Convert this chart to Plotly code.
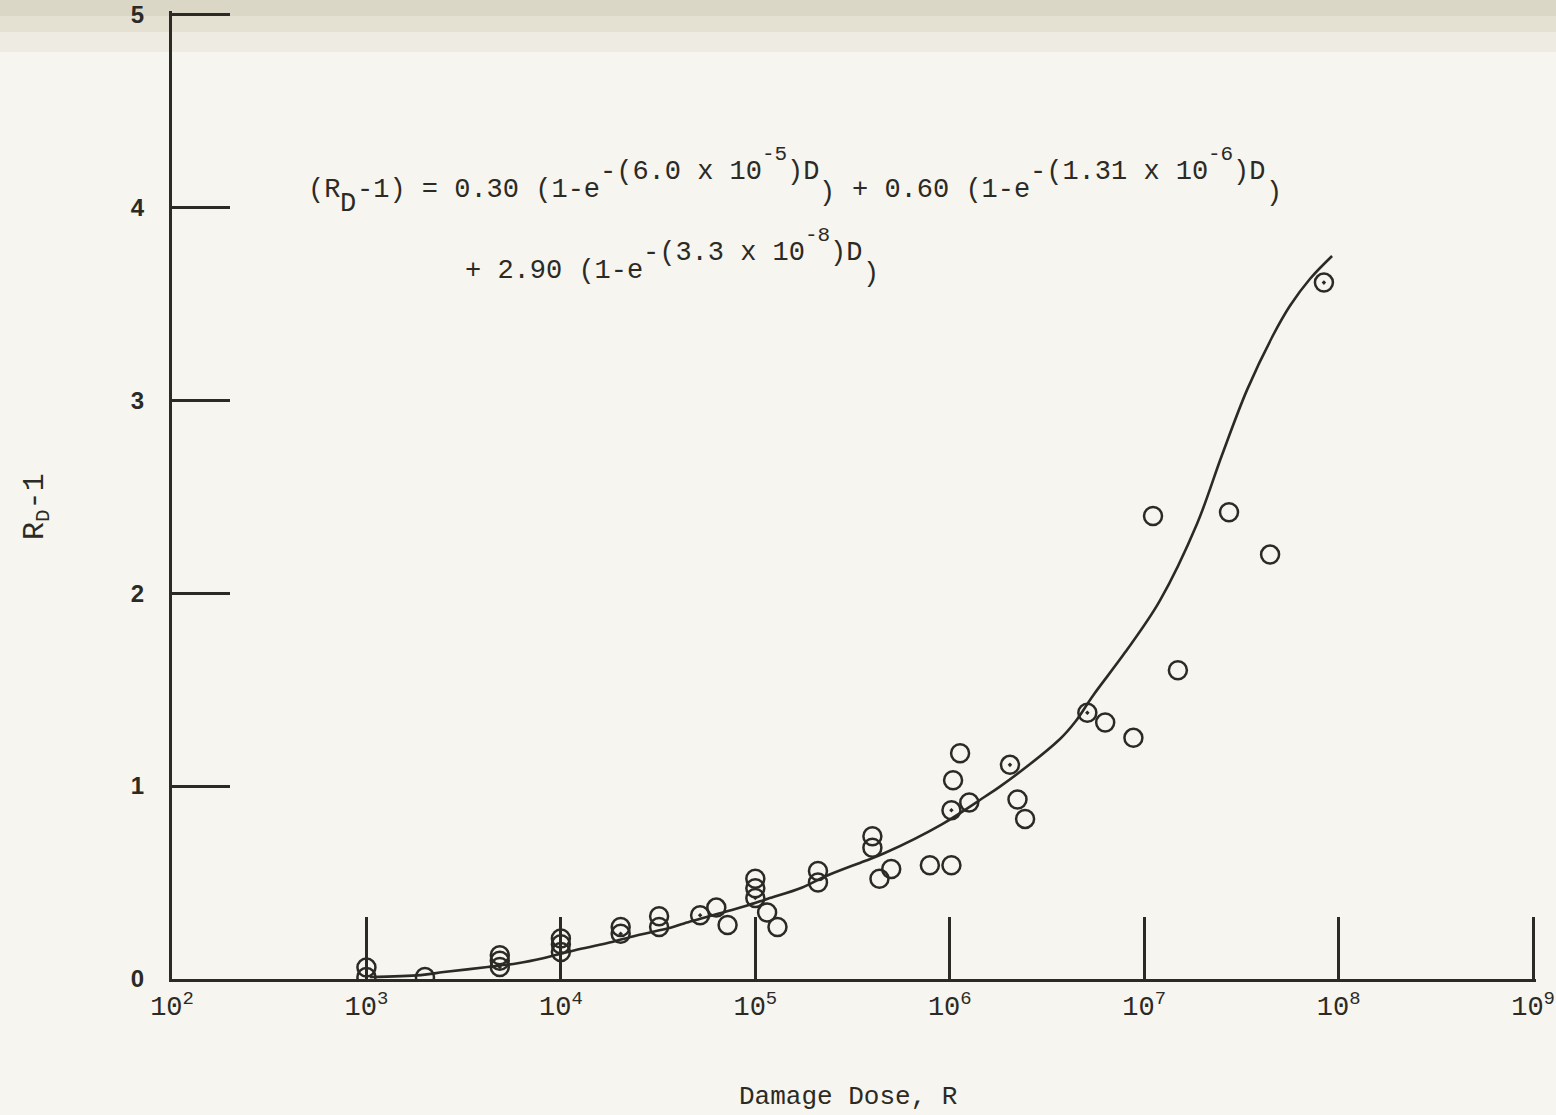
import plotly.graph_objects as go

# ---------------- data ----------------
# measured points: dose (R), R_D - 1, whether the circle has a centre dot
pt_dose = [1.0e3, 1.0e3, 2.0e3, 4.85e3, 4.85e3, 4.85e3, 1.0e4, 1.0e4, 1.0e4,
           2.03e4, 2.03e4, 3.2e4, 3.2e4, 5.2e4, 6.3e4, 7.2e4,
           1.0e5, 1.0e5, 1.0e5, 1.15e5, 1.3e5, 2.1e5, 2.1e5,
           4.0e5, 4.0e5, 4.35e5, 5.0e5, 7.9e5, 1.02e6,
           1.13e6, 1.04e6, 1.26e6, 1.02e6, 2.04e6, 2.23e6, 2.44e6,
           5.1e6, 6.3e6, 8.8e6, 1.11e7, 1.49e7, 2.73e7, 4.44e7, 8.4e7]
pt_val = [0.06, 0.01, 0.01, 0.123, 0.095, 0.062, 0.21, 0.18, 0.14,
          0.27, 0.235, 0.325, 0.27, 0.33, 0.37, 0.28,
          0.52, 0.47, 0.42, 0.345, 0.27, 0.56, 0.50,
          0.74, 0.68, 0.52, 0.57, 0.59, 0.59,
          1.17, 1.03, 0.915, 0.875, 1.11, 0.93, 0.83,
          1.38, 1.33, 1.25, 2.40, 1.60, 2.42, 2.20, 3.61]
pt_dot = [0, 0, 0, 0, 0, 1, 0, 0, 1,
          0, 1, 0, 0, 1, 0, 0,
          0, 0, 1, 0, 0, 0, 0,
          0, 0, 0, 0, 0, 0,
          0, 0, 0, 1, 1, 0, 0,
          1, 0, 0, 0, 0, 0, 0, 1]

# fitted curve as drawn
curve_dose = [1.04e3, 1.9e3, 2.5e3, 4.2e3, 6.0e3, 8.1e3, 1.18e4, 1.72e4, 2.45e4,
              3.7e4, 4.3e4, 7.4e4, 9.0e4, 1.16e5, 1.73e5, 2.33e5, 3.66e5, 4.63e5,
              9.1e5, 1.52e6, 1.81e6, 3.69e6, 4.41e6, 5.46e6, 7.96e6, 1.2e7,
              1.87e7, 2.51e7, 3.38e7, 4.6e7, 5.62e7, 7.13e7, 9.25e7]
curve_val = [0.010, 0.020, 0.036, 0.062, 0.082, 0.108, 0.149, 0.185, 0.226,
             0.267, 0.288, 0.355, 0.380, 0.416, 0.473, 0.535, 0.612, 0.653,
             0.802, 0.946, 0.997, 1.244, 1.332, 1.470, 1.692, 1.959,
             2.360, 2.715, 3.054, 3.337, 3.49, 3.630, 3.748]

x_tickvals = [1e2, 1e3, 1e4, 1e5, 1e6, 1e7, 1e8, 1e9]
x_ticktext = ["10<sup>2</sup>", "10<sup>3</sup>", "10<sup>4</sup>", "10<sup>5</sup>",
              "10<sup>6</sup>", "10<sup>7</sup>", "10<sup>8</sup>", "10<sup>9</sup>"]
y_tickvals = [0, 1, 2, 3, 4, 5]
y_ticktext = ["0", "1", "2", "3", "4", "5"]

# ---------------- styling ----------------
INK = "#2c2a24"
BG = "#f6f5ef"
MONO = "Liberation Mono"
W, H = 1556, 1115
L, R, T, B = 172, 20, 11, 136
PW, PH = W - L - R, H - T - B
Y0PX = H - B


def px2paper(px, py):
    return (px - L) / PW, (Y0PX - py) / PH


fig = go.Figure()

fig.add_trace(go.Scatter(
    x=curve_dose, y=curve_val, mode="lines",
    line=dict(color=INK, width=2.6, shape="spline", smoothing=1.0),
    hoverinfo="skip", showlegend=False))

symbols = ["circle-open-dot" if d else "circle-open" for d in pt_dot]
fig.add_trace(go.Scatter(
    x=pt_dose, y=pt_val, mode="markers",
    marker=dict(symbol=symbols, size=18, color=INK, line=dict(color=INK, width=2.5)),
    showlegend=False))

annotations = []


def add_text(text, px, py, size, anchor="left", angle=0, family=MONO):
    x, y = px2paper(px, py)
    annotations.append(dict(text=text, x=x, y=y, xref="paper", yref="paper",
                            xanchor=anchor, yanchor="middle", showarrow=False,
                            textangle=angle,
                            font=dict(family=family, size=size, color=INK)))


MAIN = 27
SS = 21


def eq_line(x0, y_main, pieces):
    x = x0
    ys = {"main": y_main, "sub": y_main + 14, "exp": y_main - 18,
          "ss": y_main - 35, "low": y_main + 3}
    for txt, kind in pieces:
        size = SS if kind == "ss" else MAIN
        adv = 0.6 * size
        stripped = txt.lstrip(" ")
        lead = len(txt) - len(stripped)
        add_text(stripped, x + lead * adv, ys[kind], size)
        x += len(txt) * adv


eq_line(306, 190, [("(R", "main"), ("D", "sub"), ("-1) = 0.30 (1-e", "main"),
                   ("-(6.0 x 10", "exp"), ("-5", "ss"), (")D", "exp"), (")", "low"),
                   (" + 0.60 (1-e", "main"), ("-(1.31 x 10", "exp"), ("-6", "ss"),
                   (")D", "exp"), (")", "low")])
eq_line(463, 271, [("+ 2.90 (1-e", "main"), ("-(3.3 x 10", "exp"), ("-8", "ss"),
                   (")D", "exp"), (")", "low")])

# axis titles
add_text("Damage Dose, R", 848, 1097, 26, anchor="center")
add_text("R<sub>D</sub>-1", 36, 507, 30, anchor="center", angle=-90)

shapes = [
    dict(type="rect", xref="paper", yref="paper", x0=-0.2, x1=1.1,
         y0=px2paper(0, 16)[1], y1=px2paper(0, -5)[1], fillcolor="#dbd7c6",
         line=dict(width=0), layer="below"),
    dict(type="rect", xref="paper", yref="paper", x0=-0.2, x1=1.1,
         y0=px2paper(0, 32)[1], y1=px2paper(0, 16)[1], fillcolor="#e4e1d3",
         line=dict(width=0), layer="below"),
    dict(type="rect", xref="paper", yref="paper", x0=-0.2, x1=1.1,
         y0=px2paper(0, 52)[1], y1=px2paper(0, 32)[1], fillcolor="#edebe2",
         line=dict(width=0), layer="below"),
]

fig.update_layout(
    width=W, height=H,
    margin=dict(l=L, r=R, t=T, b=B, autoexpand=False),
    paper_bgcolor=BG, plot_bgcolor="rgba(0,0,0,0)",
    showlegend=False,
    annotations=annotations,
    shapes=shapes,
    xaxis=dict(type="log", range=[2, 9.015], tickvals=x_tickvals, ticktext=x_ticktext,
               ticks="inside", ticklen=62, tickwidth=2.5, tickcolor=INK,
               showline=True, linewidth=3, linecolor=INK, showgrid=False,
               zeroline=False, ticklabelstandoff=1, ticklabeloverflow="allow",
               tickfont=dict(family=MONO, size=27, color=INK)),
    yaxis=dict(range=[0, 5.018], tickvals=y_tickvals, ticktext=y_ticktext,
               ticks="inside", ticklen=58, tickwidth=2.5, tickcolor=INK,
               showline=True, linewidth=3, linecolor=INK, showgrid=False,
               zeroline=False, ticklabelstandoff=20, ticklabeloverflow="allow",
               tickfont=dict(family="Liberation Sans", size=24, color=INK,
                             weight="bold")),
)

fig.write_html(
    "out.html",
    config={"displayModeBar": False},
    post_script="document.body.style.margin='0px';"
                "document.body.style.background='" + BG + "';"
                "document.body.style.overflow='hidden';")
